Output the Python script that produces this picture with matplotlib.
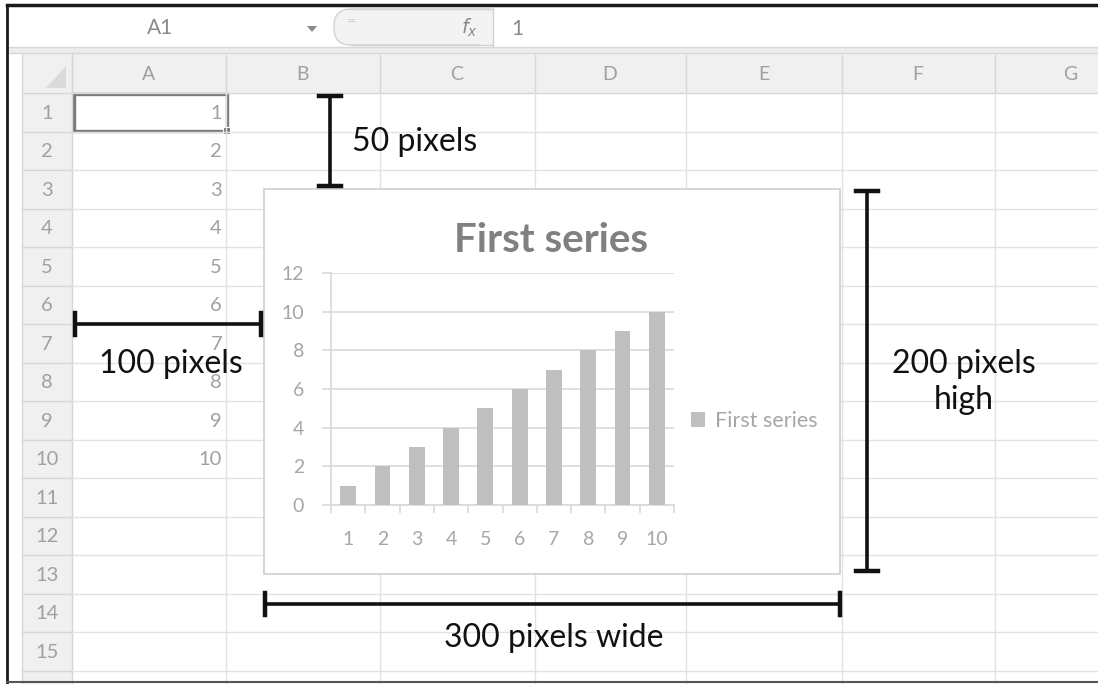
import matplotlib
matplotlib.use("Agg")
import matplotlib.pyplot as plt
from matplotlib.patches import Rectangle, FancyBboxPatch, Polygon

# ---------------- data ----------------
categories = [1, 2, 3, 4, 5, 6, 7, 8, 9, 10]
values = [1, 2, 3, 4, 5, 6, 7, 8, 9, 10]
series_name = "First series"
chart_title = "First series"
y_ticks = [0, 2, 4, 6, 8, 10, 12]
col_labels = ["A", "B", "C", "D", "E", "F", "G"]
row_labels = [str(i) for i in range(1, 16)]
cell_values = [1, 2, 3, 4, 5, 6, 7, 8, 9, 10]
name_box = "A1"
formula_value = "1"
ann_top = "50 pixels"
ann_left = "100 pixels"
ann_right = ["200 pixels", "high"]
ann_bottom = "300 pixels wide"

W, H = 1098, 684
fig = plt.figure(figsize=(W / 100, H / 100), dpi=100)
fig.patch.set_facecolor("white")

bg = fig.add_axes([0, 0, 1, 1])
bg.set_xlim(0, W)
bg.set_ylim(H, 0)
bg.axis("off")

def fy(y):
    return (H - y) / H

def fx(x):
    return x / W

GRID = "#e2e2e2"
HDR_TXT = "#a0a0a0"
FONT = ["Lato", "DejaVu Sans"]

# ---------------- formula bar ----------------
bg.add_patch(Rectangle((7, 5), W - 7, 42, facecolor="white", edgecolor="none"))
bg.add_patch(Rectangle((7, 47), W - 7, 6, facecolor="#ececec", edgecolor="none"))
bg.plot([7, W], [47, 47], color="#d8d8d8", lw=1)
bg.plot([7, W], [53, 53], color="#d8d8d8", lw=1)
bg.text(160, 28, name_box, ha="center", va="center", fontsize=15, color="#8a8a8a", family=FONT)
bg.add_patch(Polygon([[307, 26], [317, 26], [312, 32]], closed=True, facecolor="#8a8a8a", edgecolor="none"))
bg.add_patch(FancyBboxPatch((334, 9), 170, 36, boxstyle="round,pad=0,rounding_size=17",
                            facecolor="#f3f3f3", edgecolor="#d2d2d2", lw=1))
bg.add_patch(Rectangle((480, 9.5), 13, 35, facecolor="#f3f3f3", edgecolor="none"))
bg.add_patch(Rectangle((493, 8), 30, 38, facecolor="white", edgecolor="none"))
bg.plot([334 + 17, 493], [9, 9], color="#d2d2d2", lw=1)
bg.plot([334 + 17, 493], [45, 45], color="#d2d2d2", lw=1)
bg.plot([493, 493], [8, 46], color="#d2d2d2", lw=1)
bg.text(352, 21, "=", ha="center", va="center", fontsize=8, color="#c8c8c8")
bg.text(470, 28, "$f_x$", ha="center", va="center", fontsize=14, color="#8a8a8a")
bg.text(517, 29, formula_value, ha="center", va="center", fontsize=15, color="#8a8a8a", family=FONT)

# ---------------- column header ----------------
col_edges = [72, 226, 380, 535, 686, 842, 995]
col_centers = [149, 303, 457, 610, 764, 918, 1070]
bg.add_patch(Rectangle((22, 53), W - 22, 40, facecolor="#f0f0f0", edgecolor="none"))
bg.plot([22, W], [93, 93], color="#d6d6d6", lw=1)
for x0 in col_edges:
    bg.plot([x0, x0], [55, 93], color="#d6d6d6", lw=1)
for cx, lab in zip(col_centers, col_labels):
    bg.text(cx, 74, lab, ha="center", va="center", fontsize=14, color=HDR_TXT, family=FONT)
bg.add_patch(Polygon([[66, 66], [66, 88], [46, 88]], closed=True, facecolor="#dadada", edgecolor="none"))

# ---------------- row header & grid ----------------
row_top = 93
row_h = 38.5
bg.add_patch(Rectangle((22, 93), 50, H - 93, facecolor="#f0f0f0", edgecolor="none"))
bg.plot([22, 22], [53, H], color="#d6d6d6", lw=1)
bg.plot([72, 72], [53, H], color="#d6d6d6", lw=1)
for k in range(16):
    y1 = row_top + (k + 1) * row_h
    bg.plot([22, 72], [y1, y1], color="#d6d6d6", lw=1)
    bg.plot([72, W], [y1, y1], color=GRID, lw=1)
for k, lab in enumerate(row_labels):
    y0 = row_top + k * row_h
    bg.text(47, y0 + row_h / 2 + 1, lab, ha="center", va="center", fontsize=14.5,
            color=HDR_TXT, family=FONT)
for x in col_edges[1:]:
    bg.plot([x, x], [93, H], color=GRID, lw=1)

for k, v in enumerate(cell_values):
    y0 = row_top + k * row_h
    bg.text(222, y0 + row_h / 2 + 1, str(v), ha="right", va="center", fontsize=14.5,
            color=HDR_TXT, family=FONT)

# selected cell
bg.add_patch(Rectangle((74, 94), 153, 37, facecolor="none", edgecolor="#7a7a7a", lw=2.4))
bg.add_patch(Rectangle((223, 127), 7, 7, facecolor="#7a7a7a", edgecolor="white", lw=0.8))

# outer frame
bg.plot([7, 7], [5, H], color="#1a1a1a", lw=2)
bg.plot([7, W], [5, 5], color="#1a1a1a", lw=2.5)
bg.plot([7, W], [682, 682], color="#555555", lw=1.5)

# ---------------- chart box ----------------
bg.add_patch(Rectangle((264, 189), 576, 385, facecolor="white", edgecolor="#d0d0d0", lw=1.2, zorder=3))
fig.text(fx(551), fy(240), chart_title, ha="center", va="center", fontsize=29,
         fontweight="bold", color="#808080", family=FONT)

ax = fig.add_axes([fx(331), fy(505), fx(674) - fx(331), fy(273) - fy(505)])
ax.set_zorder(5)
ax.patch.set_alpha(0)
ax.bar(categories, values, width=0.46, color="#bfbfbf", zorder=3, label=series_name)
ax.set_xlim(0.5, 10.5)
ax.set_ylim(0, 12)
ax.set_yticks(y_ticks)
ax.set_xticks(categories)
ax.set_xticks([c - 0.5 for c in categories] + [categories[-1] + 0.5], minor=True)
ax.yaxis.grid(True, color="#d9d9d9", lw=1.2, zorder=0)
ax.set_axisbelow(True)
for s in ["top", "right"]:
    ax.spines[s].set_visible(False)
for s in ["left", "bottom"]:
    ax.spines[s].set_color("#d9d9d9")
    ax.spines[s].set_linewidth(1.2)
ax.tick_params(axis="y", length=6.5, width=1.2, color="#d9d9d9", pad=13,
               labelsize=14, labelcolor="#a6a6a6")
ax.tick_params(axis="x", which="major", length=0, pad=19, labelsize=14, labelcolor="#a6a6a6")
ax.tick_params(axis="x", which="minor", length=6, width=1.2, color="#d9d9d9")
for lbl in ax.get_xticklabels() + ax.get_yticklabels():
    lbl.set_family(FONT)
leg = ax.legend(loc="center left", bbox_to_anchor=(fx(672), fy(421)), bbox_transform=fig.transFigure,
                frameon=False, handlelength=0.65, handleheight=0.65, handletextpad=0.45,
                prop={"family": FONT, "size": 15.5})
for t in leg.get_texts():
    t.set_color("#a6a6a6")

# ---------------- annotations ----------------
LW = 2.6
K = "#111111"
AFS = 23
def vbar(x, y0, y1, cap=11):
    bg.plot([x, x], [y0, y1], color=K, lw=LW, zorder=10)
    bg.plot([x - cap, x + cap], [y0, y0], color=K, lw=LW + 0.6, zorder=10)
    bg.plot([x - cap, x + cap], [y1, y1], color=K, lw=LW + 0.6, zorder=10)

def hbar(y, x0, x1, cap=11):
    bg.plot([x0, x1], [y, y], color=K, lw=LW, zorder=10)
    bg.plot([x0, x0], [y - cap, y + cap], color=K, lw=LW + 0.6, zorder=10)
    bg.plot([x1, x1], [y - cap, y + cap], color=K, lw=LW + 0.6, zorder=10)

vbar(330, 96, 186)
bg.text(352, 142, ann_top, ha="left", va="center", fontsize=AFS, color=K, family=FONT, zorder=10)
hbar(324, 75, 261)
bg.text(171, 364, ann_left, ha="center", va="center", fontsize=AFS, color=K, family=FONT, zorder=10)
vbar(867, 191, 571)
bg.text(964, 364, ann_right[0], ha="center", va="center", fontsize=AFS, color=K, family=FONT, zorder=10)
bg.text(964, 400, ann_right[1], ha="center", va="center", fontsize=AFS, color=K, family=FONT, zorder=10)
hbar(604, 265, 840)
bg.text(554, 638, ann_bottom, ha="center", va="center", fontsize=AFS, color=K, family=FONT, zorder=10)

fig.savefig("out.png", dpi=100, facecolor="white")
